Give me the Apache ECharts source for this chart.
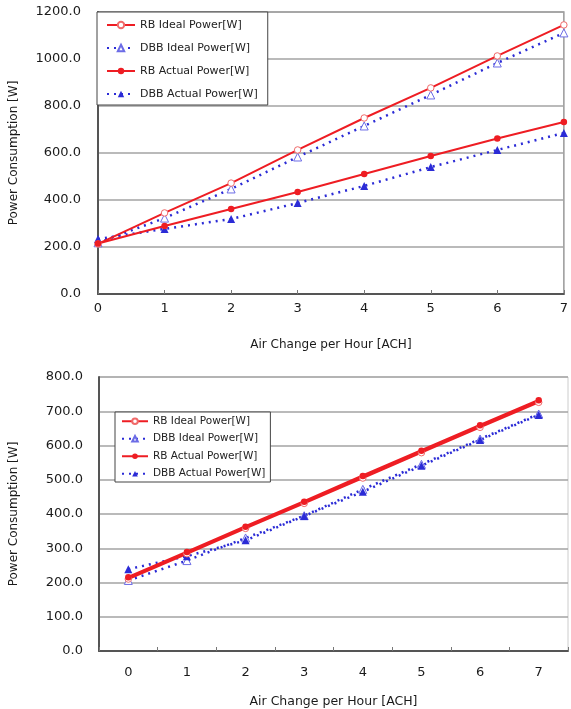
<!DOCTYPE html>
<html>
<head>
<meta charset="utf-8">
<script src="https://cdn.jsdelivr.net/npm/echarts@6/dist/echarts.min.js"></script>
<style>
  html, body { margin: 0; padding: 0; background: #fff; }
  #main { width: 571px; height: 709px; }
</style>
</head>
<body>
<div id="main"></div>
<script>
// ACH values (top chart uses a value axis, bottom one a category axis)
var achTop = [0, 1, 2, 3, 4, 5, 6, 7];
var achCats = ['0', '1', '2', '3', '4', '5', '6', '7'];

// top chart
var rbIdealTop   = [213, 345, 472, 613, 749, 877, 1013, 1145];
var dbbIdealTop  = [218, 323, 447, 583, 715, 847, 983, 1111];
var rbActualTop  = [215, 289, 362, 434, 511, 587, 662, 732];
var dbbActualTop = [234, 277, 319, 387, 460, 540, 613, 685];

// bottom chart
var rbIdealBot   = [210, 284, 358, 431, 505, 579, 653, 726];
var dbbIdealBot  = [206, 264, 330, 395, 472, 545, 619, 692];
var rbActualBot  = [215, 289, 363, 436, 511, 585, 659, 732];
var dbbActualBot = [239, 277, 323, 394, 465, 541, 616, 689];

var names = ['RB Ideal Power[W]', 'DBB Ideal Power[W]', 'RB Actual Power[W]', 'DBB Actual Power[W]'];

var RED = '#ee1d23';
var BLUE = '#2b2bd6';
var FONT = 'DejaVu Sans';

function pairs(xs, ys) {
  var out = [];
  for (var i = 0; i < xs.length; i++) out.push([xs[i], ys[i]]);
  return out;
}

function mkSeries(idx, data, k, lw) {
  var red = (k % 2 == 0);
  var col = red ? RED : BLUE;
  var hollow = k < 2;
  return {
    name: names[k],
    type: 'line',
    xAxisIndex: idx,
    yAxisIndex: idx,
    data: data,
    symbol: red ? 'circle' : 'triangle',
    symbolSize: red ? 6.5 : 8,
    showSymbol: true,
    itemStyle: hollow
      ? { color: '#fff', borderColor: red ? '#f06a6a' : '#6c6ce6', borderWidth: 1 }
      : { color: col, borderWidth: 0 },
    lineStyle: red ? { color: RED, width: lw, type: 'solid' } : { color: BLUE, width: 2.5, type: [2, 5] },
    animation: false,
    z: red ? 3 : 2
  };
}

var axisText = { color: '#1a1a1a', fontSize: 13, fontFamily: FONT };
var nameText = { color: '#1a1a1a', fontSize: 12, fontFamily: FONT };
var split = { show: true, lineStyle: { color: '#a3a3a3', width: 1.5 } };
var axLine = { show: true, lineStyle: { color: '#555', width: 2 } };

var chart = echarts.init(document.getElementById('main'), null, { renderer: 'canvas' });

chart.setOption({
  backgroundColor: '#fff',
  animation: false,
  grid: [
    { left: 97, top: 12, width: 470, height: 282, show: true, borderColor: '#999', borderWidth: 1.5 },
    { left: 98, top: 377, width: 470, height: 277, show: true, borderColor: '#ccc', borderWidth: 1 }
  ],
  legend: [
    {
      data: names, orient: 'vertical', left: 97, top: 12,
      itemWidth: 28, itemHeight: 8, itemGap: 9,
      padding: [6, 10, 4, 9],
      borderColor: '#444', borderWidth: 1, backgroundColor: '#fff',
      textStyle: { fontSize: 11, fontFamily: FONT, color: '#222', lineHeight: 14 },
      selectedMode: false
    },
    {
      data: names, orient: 'vertical', left: 115, top: 412,
      itemWidth: 26, itemHeight: 7, itemGap: 5,
      padding: [3, 5, 2, 6],
      borderColor: '#444', borderWidth: 1, backgroundColor: '#fff',
      textStyle: { fontSize: 10.5, fontFamily: FONT, color: '#222', lineHeight: 12.5 },
      selectedMode: false
    }
  ],
  xAxis: [
    {
      gridIndex: 0, type: 'value', min: 0, max: 7, interval: 1,
      name: 'Air Change per Hour [ACH]', nameLocation: 'middle', nameGap: 45,
      nameTextStyle: nameText,
      axisLine: axLine,
      axisTick: { show: true, inside: true, length: 4, lineStyle: { color: '#777' } },
      axisLabel: Object.assign({ margin: 8 }, axisText),
      splitLine: { show: false }
    },
    {
      gridIndex: 1, type: 'category', data: achCats, boundaryGap: true,
      name: 'Air Change per Hour [ACH]', nameLocation: 'middle', nameGap: 44,
      nameTextStyle: { color: '#1a1a1a', fontSize: 12.5, fontFamily: FONT },
      axisLine: axLine,
      axisTick: { show: true, inside: true, length: 4, alignWithLabel: false, lineStyle: { color: '#777' } },
      axisLabel: Object.assign({ margin: 15 }, axisText),
      splitLine: { show: false }
    }
  ],
  yAxis: [
    {
      gridIndex: 0, type: 'value', min: 0, max: 1200, interval: 200,
      name: 'Power Consumption [W]', nameLocation: 'middle', nameGap: 78,
      nameTextStyle: nameText,
      axisLine: axLine,
      axisTick: { show: false },
      axisLabel: Object.assign({ margin: 17, formatter: function (v) { return v.toFixed(1); } }, axisText),
      splitLine: split
    },
    {
      gridIndex: 1, type: 'value', min: 0, max: 800, interval: 100,
      name: 'Power Consumption [W]', nameLocation: 'middle', nameGap: 79,
      nameTextStyle: nameText,
      axisLine: axLine,
      axisTick: { show: false },
      axisLabel: Object.assign({ margin: 16, formatter: function (v) { return v.toFixed(1); } }, axisText),
      splitLine: split
    }
  ],
  series: [
    mkSeries(0, pairs(achTop, rbIdealTop), 0, 2),
    mkSeries(0, pairs(achTop, dbbIdealTop), 1, 2),
    mkSeries(0, pairs(achTop, rbActualTop), 2, 2),
    mkSeries(0, pairs(achTop, dbbActualTop), 3, 2),
    mkSeries(1, rbIdealBot, 0, 2),
    mkSeries(1, dbbIdealBot, 1, 2),
    mkSeries(1, rbActualBot, 2, 3),
    mkSeries(1, dbbActualBot, 3, 2)
  ]
});
</script>
</body>
</html>
